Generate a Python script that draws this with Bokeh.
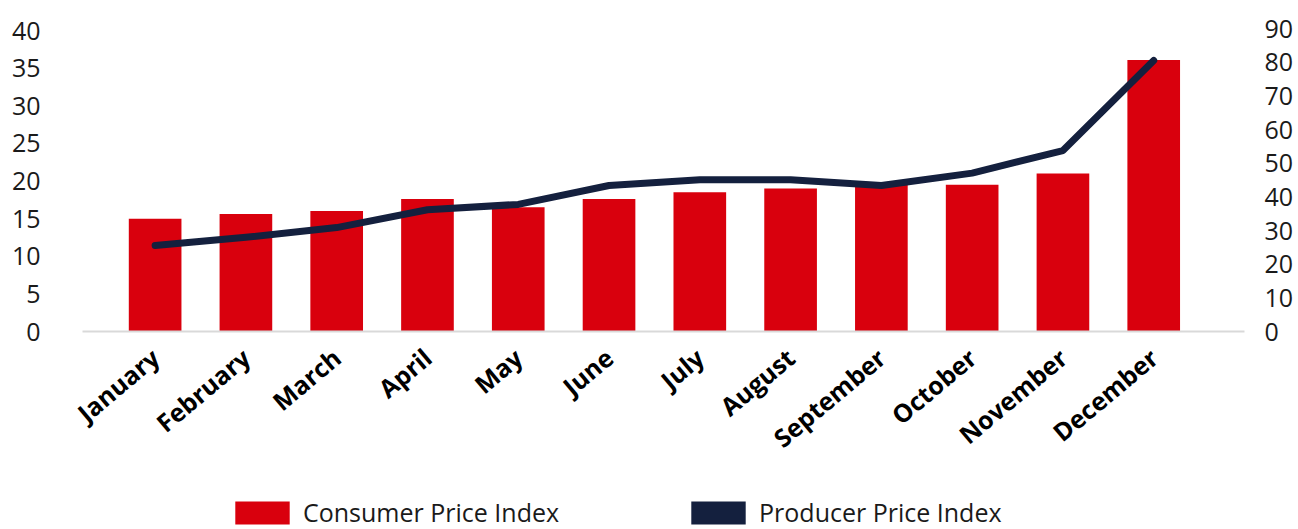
from bokeh.plotting import figure
from bokeh.layouts import column
from bokeh.models import Range1d, LinearAxis, FixedTicker, Legend, LegendItem, ColumnDataSource
from bokeh.embed import file_html
from bokeh.resources import INLINE

months = ["January", "February", "March", "April", "May", "June", "July",
          "August", "September", "October", "November", "December"]
cpi = [15.0, 15.6, 16.0, 17.6, 16.5, 17.6, 18.5, 19.0, 19.7, 19.5, 21.0, 36.1]
ppi = [25.6, 28.0, 30.9, 36.2, 37.8, 43.4, 45.1, 45.1, 43.4, 47.1, 53.8, 80.6]
left_ticks = [0, 5, 10, 15, 20, 25, 30, 35, 40]
right_ticks = [0, 10, 20, 30, 40, 50, 60, 70, 80, 90]
series_names = ["Consumer Price Index", "Producer Price Index"]

RED = "#d9000d"
NAVY = "#14203e"
TXT = "#1a1a1a"
FONT = "Open Sans"
FS = "25px"

xs = list(range(len(months)))
src = ColumnDataSource(dict(x=xs, cpi=cpi, ppi=ppi))

p = figure(frame_width=1162, frame_height=303, output_backend="svg", toolbar_location=None,
           x_range=Range1d(-0.8, 12.0), y_range=Range1d(0, 40.27),
           min_border_left=82, min_border_right=54, min_border_top=28,
           min_border_bottom=150)
p.extra_y_ranges = {"ppi": Range1d(0, 90.1)}
p.outline_line_color = None
p.xgrid.visible = False
p.ygrid.visible = False
p.background_fill_color = "white"
p.border_fill_color = "white"

bars = p.vbar(x="x", top="cpi", width=0.58, source=src, fill_color=RED, line_color=None)
line = p.line("x", "ppi", source=src, y_range_name="ppi", line_width=7,
              line_color=NAVY, line_cap="round", line_join="round")

# x axis
xa = p.xaxis[0]
xa.ticker = FixedTicker(ticks=xs)
xa.major_label_overrides = {i: m for i, m in zip(xs, months)}
xa.major_label_orientation = 0.698
xa.major_label_text_font = FONT
xa.major_label_text_font_style = "bold"
xa.major_label_text_font_size = FS
xa.major_label_text_color = "black"
xa.major_tick_line_color = None
xa.major_tick_out = 0
xa.major_tick_in = 0
xa.minor_tick_line_color = None
xa.axis_line_color = "#d9d9d9"
xa.axis_line_width = 2
xa.major_label_standoff = 22

# left axis
ya = p.yaxis[0]
ya.ticker = FixedTicker(ticks=left_ticks)
ya.axis_line_color = None
ya.major_tick_line_color = None
ya.major_tick_out = 0
ya.major_tick_in = 0
ya.minor_tick_line_color = None
ya.major_label_standoff = 42
ya.major_label_text_font = FONT
ya.major_label_text_font_size = FS
ya.major_label_text_color = TXT

# right axis
ra = LinearAxis(y_range_name="ppi", ticker=FixedTicker(ticks=right_ticks))
ra.axis_line_color = None
ra.major_tick_line_color = None
ra.major_tick_out = 0
ra.major_tick_in = 0
ra.minor_tick_line_color = None
ra.major_label_standoff = 20
ra.major_label_text_font = FONT
ra.major_label_text_font_size = FS
ra.major_label_text_color = TXT
p.add_layout(ra, "right")

# legend strip (separate small figure holding legend key swatches)
lg = figure(width=1298, height=48, output_backend="svg", toolbar_location=None,
            x_range=Range1d(0, 1), y_range=Range1d(0, 1),
            x_axis_location=None, y_axis_location=None,
            min_border_left=0, min_border_right=0, min_border_top=0, min_border_bottom=0)
lg.outline_line_color = None
lg.xgrid.visible = False
lg.ygrid.visible = False
k1 = lg.vbar(x=[0], top=[0], width=0.01, fill_color=RED, line_color=None)
k2 = lg.vbar(x=[0], top=[0], width=0.01, fill_color=NAVY, line_color=None)

legend = Legend(items=[LegendItem(label=series_names[0], renderers=[k1]),
                       LegendItem(label=series_names[1], renderers=[k2])],
                orientation="horizontal", location=(146, 0),
                glyph_width=68, glyph_height=29, label_height=29, label_standoff=7,
                spacing=125, padding=0, margin=0, border_line_color=None,
                background_fill_alpha=0, label_text_font=FONT,
                label_text_font_size=FS, label_text_color=TXT)
lg.add_layout(legend, "center")

open("out.html", "w").write(file_html(column(p, lg, spacing=0), INLINE))
